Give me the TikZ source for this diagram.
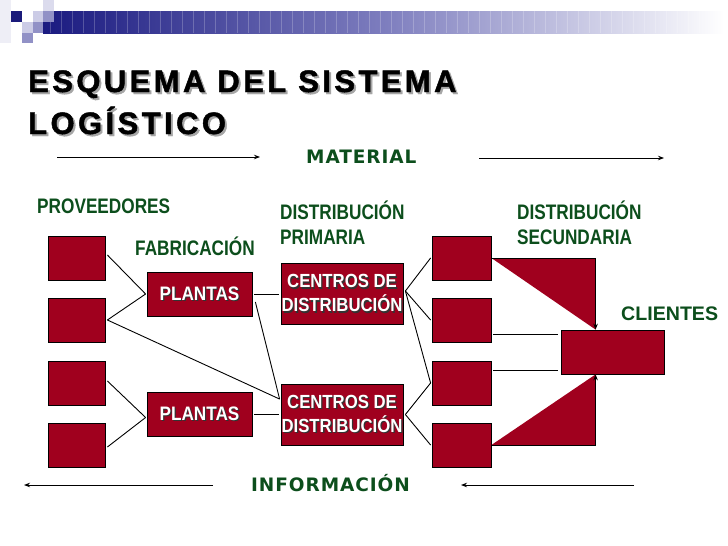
\documentclass[tikz,border=0pt]{standalone}
\usepackage{fontspec}
\setmainfont{Liberation Sans}
\newfontfamily\lblfont{Liberation Sans}[FakeStretch=0.82]
\newfontfamily\wfont{Liberation Sans}[FakeStretch=0.88]
\newfontfamily\titlefont{Liberation Sans}[LetterSpace=11,FakeBold=1.5]
\newfontfamily\comicfont{DejaVu Sans}[LetterSpace=5]
\usetikzlibrary{arrows.meta,calc}
\definecolor{boxred}{RGB}{160,0,30}
\definecolor{lblgreen}{RGB}{12,78,28}
\definecolor{barnavy}{RGB}{26,26,128}
\definecolor{barmid}{RGB}{125,125,190}
\definecolor{sqdark}{RGB}{26,26,122}
\definecolor{sqlight}{RGB}{204,204,230}
\definecolor{sqmid}{RGB}{145,145,198}
\definecolor{sqfaint}{RGB}{238,238,246}
\newcommand\shw[1]{\makebox[0pt][l]{\hspace{1.3pt}\raisebox{-1.3pt}{\textcolor{black!80}{#1}}}#1}
\newcommand\tsh[1]{\makebox[0pt][l]{\hspace{2pt}\raisebox{-2pt}{\textcolor{black!35}{#1}}}#1}
\begin{document}
\begin{tikzpicture}[x=1pt,y=-1pt,
  box/.style={draw=black, line width=0.8pt, fill=boxred, inner sep=0pt},
  sbox/.style={box, minimum width=57pt, minimum height=44pt},
  rbox/.style={box, minimum width=59pt, minimum height=44pt},
  pbox/.style={box, minimum width=105pt, minimum height=44pt, text=white,
    font=\wfont\bfseries\fontsize{19.5}{24}\selectfont},
  cbox/.style={box, minimum width=122pt, minimum height=61pt, text=white, align=center,
    font=\wfont\bfseries\fontsize{19}{24}\selectfont},
  clbox/.style={box, minimum width=103pt, minimum height=44pt},
  lbl/.style={anchor=base west, inner sep=0pt, text=lblgreen,
    font=\lblfont\bfseries\fontsize{21}{25}\selectfont},
  comic/.style={anchor=base west, inner sep=0pt, text=lblgreen,
    font=\comicfont\bfseries\fontsize{18.5}{22}\selectfont},
  conn/.style={draw=black, line width=0.9pt},
  flow/.style={draw=black, line width=0.9pt, -{Stealth[length=6pt,width=4.5pt]}}
]
\useasboundingbox (0,0) rectangle (728,546);
\fill[white] (0,0) rectangle (728,546);

% header bar
\shade[left color=barnavy, right color=white, middle color=barmid] (43,11) rectangle (724,33);
\foreach \x in {50,61,...,700} \draw[white, opacity=0.22, line width=1pt] (\x,11) -- (\x,33);
\fill[sqfaint] (0,0) rectangle (11,43);
\fill[sqdark] (11,11) rectangle (22,22);
\fill[sqlight] (33,11) rectangle (43,22);
\fill[sqmid] (43,11) rectangle (54,22);
\fill[sqlight!70!white] (43,0) rectangle (54,11);
\fill[sqlight] (22,22) rectangle (33,33);
\fill[sqmid] (33,22) rectangle (43,33);
\fill[sqmid] (22,33) rectangle (33,43);

% title
\node[anchor=base west, inner sep=0pt] (title1) at (28,92)
  {\titlefont\bfseries\fontsize{31}{36}\selectfont\tsh{ESQUEMA DEL SISTEMA}};
\node[anchor=base west, inner sep=0pt] (title2) at (28,134)
  {\titlefont\bfseries\fontsize{31}{36}\selectfont\tsh{LOGÍSTICO}};

% labels
\node[comic] (mat) at (306,163) {MATERIAL};
\node[comic] (inf) at (251,491) {INFORMACIÓN};
\node[lbl] (prov) at (37,213) {PROVEEDORES};
\node[lbl] (fab) at (135,255) {FABRICACIÓN};
\node[lbl] (dp1) at (280,219) {DISTRIBUCIÓN};
\node[lbl] (dp2) at (280,244) {PRIMARIA};
\node[lbl] (ds1) at (517,219) {DISTRIBUCIÓN};
\node[lbl] (ds2) at (517,244) {SECUNDARIA};
\node[lbl, font=\bfseries\fontsize{19.6}{24}\selectfont] (cli) at (621,320) {CLIENTES};

% boxes
\node[sbox] (s1) at (76.5,258) {};
\node[sbox] (s2) at (76.5,320) {};
\node[sbox] (s3) at (76.5,383) {};
\node[sbox] (s4) at (76.5,445) {};
\node[pbox] (p1) at (199.5,294) {\shw{PLANTAS}};
\node[pbox] (p2) at (199.5,414.5) {\shw{PLANTAS}};
\node[cbox] (c1) at (342,294) {\shw{CENTROS DE}\\\shw{DISTRIBUCIÓN}};
\node[cbox] (c2) at (342,414.5) {\shw{CENTROS DE}\\\shw{DISTRIBUCIÓN}};
\node[rbox] (r1) at (461.5,258) {};
\node[rbox] (r2) at (461.5,320) {};
\node[rbox] (r3) at (461.5,383) {};
\node[rbox] (r4) at (461.5,445) {};
\node[clbox] (cl) at (612.5,352) {};

% triangles to clients
\coordinate (t1) at ($(cl.north west)+(35,0)$);
\coordinate (t2) at ($(cl.south west)+(35,0)$);
\fill[boxred] (r1.east) -- (r1.east -| t1) -- (t1) -- cycle;
\draw[flow] (r1.east) -- (r1.east -| t1) -- (t1);
\fill[boxred] (r4.east) -- (r4.east -| t2) -- (t2) -- cycle;
\draw[flow] (r4.east) -- (r4.east -| t2) -- (t2);

% connectors
\coordinate (c2in) at ($(c2.west)!0.5!(c2.north west)+(-1,0)$);
\draw[conn] ([xshift=2pt,yshift=3pt]s1.east) -- ([xshift=-1pt]p1.west);
\draw[conn] ([xshift=2pt]s2.east) -- ([xshift=-1pt]p1.west);
\draw[conn] ([xshift=2pt]s2.east) -- (c2in);
\draw[conn] ([xshift=3pt,yshift=-8pt]p1.east) -- (c2in);
\draw[conn] ([xshift=2pt]p1.east) -- ([xshift=-2pt]c1.west);
\draw[conn] ([xshift=2pt,yshift=2pt]s3.east) -- ([xshift=-1pt,yshift=-3pt]p2.west);
\draw[conn] ([xshift=2pt,yshift=-2pt]s4.east) -- ([xshift=-1pt,yshift=-3pt]p2.west);
\draw[conn] ([xshift=2pt]p2.east) -- ([xshift=-2pt]c2.west);
\draw[conn] ([xshift=2pt,yshift=3pt]c1.east) -- ([xshift=-1pt]r1.west);
\draw[conn] ([xshift=2pt,yshift=3pt]c1.east) -- ([xshift=-1pt]r2.west);
\draw[conn] ([xshift=2pt,yshift=3pt]c1.east) -- ([xshift=-1pt]r3.west);
\draw[conn] ([xshift=2pt]c2.east) -- ([xshift=-1pt]r3.west);
\draw[conn] ([xshift=2pt]c2.east) -- ([xshift=-1pt]r4.west);
\draw[conn] ([xshift=2pt,yshift=-14pt]r2.east) -- ([xshift=-3pt,yshift=18pt]cl.west);
\draw[conn] ([xshift=2pt,yshift=13pt]r3.east) -- ([xshift=-3pt,yshift=-18pt]cl.west);

% material / information flows
\coordinate (ma1) at (57,157);
\coordinate (ma2) at (260,157);
\coordinate (mb1) at (479,158);
\coordinate (mb2) at (664,158);
\coordinate (ia1) at (213,485);
\coordinate (ia2) at (24,485);
\coordinate (ib1) at (634,485);
\coordinate (ib2) at (461,485);
\draw[flow] (ma1) -- (ma2);
\draw[flow] (mb1) -- (mb2);
\draw[flow] (ia1) -- (ia2);
\draw[flow] (ib1) -- (ib2);
\end{tikzpicture}
\end{document}
